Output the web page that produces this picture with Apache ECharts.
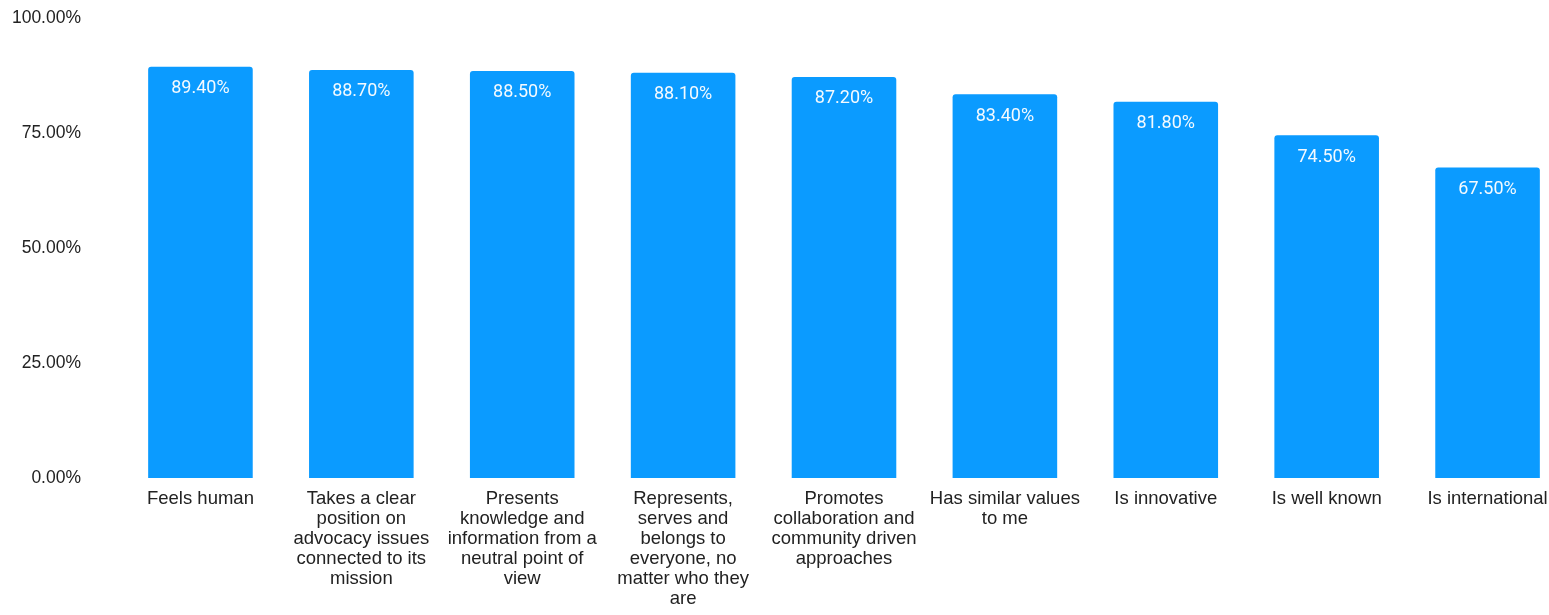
<!DOCTYPE html>
<html>
<head>
<meta charset="utf-8">
<script src="https://cdn.jsdelivr.net/npm/echarts@6/dist/echarts.min.js"></script>
<style>
  html, body { margin: 0; padding: 0; background: #ffffff; overflow: hidden; }
  #chart { width: 1549px; height: 615px; }
</style>
</head>
<body>
<div id="chart"></div>
<script>
// Attribute statements, in display order (line breaks as wrapped under each bar)
const categories = [
  'Feels human',
  'Takes a clear\nposition on\nadvocacy issues\nconnected to its\nmission',
  'Presents\nknowledge and\ninformation from a\nneutral point of\nview',
  'Represents,\nserves and\nbelongs to\neveryone, no\nmatter who they\nare',
  'Promotes\ncollaboration and\ncommunity driven\napproaches',
  'Has similar values\nto me',
  'Is innovative',
  'Is well known',
  'Is international'
];

// Share of respondents agreeing (%)
const values = [89.4, 88.7, 88.5, 88.1, 87.2, 83.4, 81.8, 74.5, 67.5];

// Y-axis ticks (%)
const yTicks = [0, 25, 50, 75, 100];

const chart = echarts.init(document.getElementById('chart'), null, { renderer: 'canvas' });

chart.setOption({
  animation: false,
  // plot area runs slightly past the right edge so the last band is clipped
  grid: {
    left: 120, width: 1448, top: 18, height: 460,
    containLabel: false,
    outerBoundsMode: 'none'
  },
  xAxis: {
    type: 'category',
    data: categories,
    axisLine: { show: false },
    axisTick: { show: false },
    axisLabel: {
      interval: 0,
      margin: 11,
      color: '#222222',
      fontFamily: 'Liberation Sans, Arial, sans-serif',
      fontSize: 18.5,
      lineHeight: 20,
      align: 'center'
    }
  },
  yAxis: {
    type: 'value',
    min: yTicks[0],
    max: yTicks[yTicks.length - 1],
    interval: yTicks[1] - yTicks[0],
    axisLine: { show: false },
    axisTick: { show: false },
    splitLine: { show: false },
    axisLabel: {
      margin: 39,
      color: '#222222',
      fontFamily: 'Liberation Sans, Arial, sans-serif',
      fontSize: 17.5,
      formatter: v => v.toFixed(2) + '%'
    }
  },
  series: [{
    type: 'bar',
    data: values,
    barWidth: '65%',
    itemStyle: { color: '#0b9bff', borderRadius: [3, 3, 0, 0] },
    label: {
      show: true,
      position: 'insideTop',
      distance: 13,
      color: '#f4faff',
      fontFamily: 'Roboto, sans-serif',
      fontWeight: 'normal',
      fontSize: 18,
      formatter: p => p.value.toFixed(2) + '%'
    }
  }]
});
</script>
</body>
</html>
